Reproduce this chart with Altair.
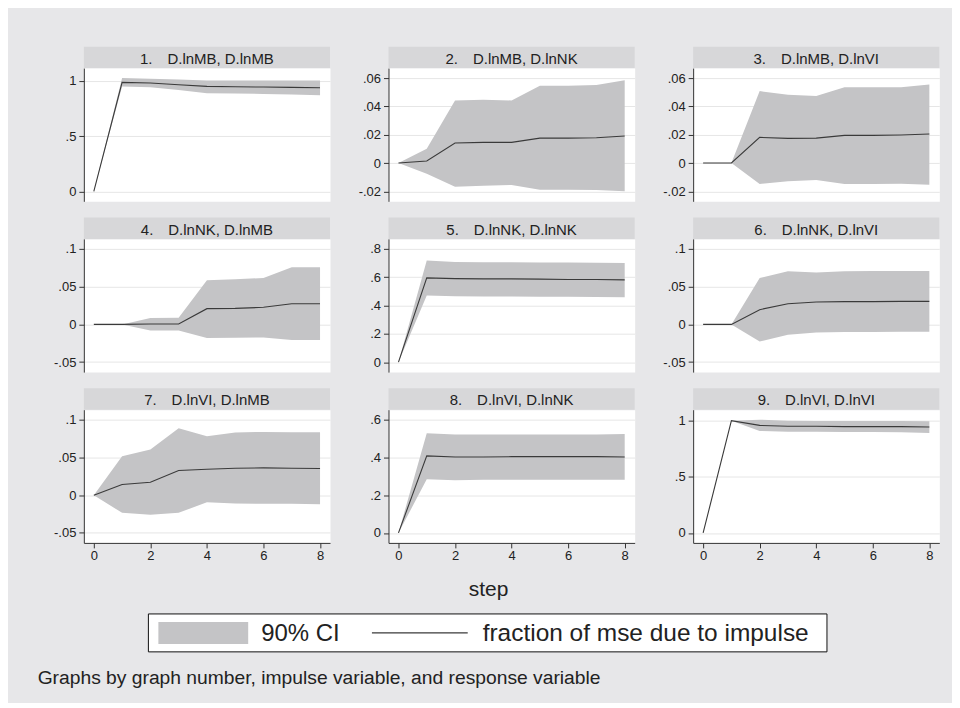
import altair as alt
import pandas as pd

# ---------------- data ----------------
steps = [0, 1, 2, 3, 4, 5, 6, 7, 8]

titles = [
    "1.\u2003D.lnMB, D.lnMB", "2.\u2003D.lnMB, D.lnNK", "3.\u2003D.lnMB, D.lnVI",
    "4.\u2003D.lnNK, D.lnMB", "5.\u2003D.lnNK, D.lnNK", "6.\u2003D.lnNK, D.lnVI",
    "7.\u2003D.lnVI, D.lnMB", "8.\u2003D.lnVI, D.lnNK", "9.\u2003D.lnVI, D.lnVI",
]

est = [
    [0, 0.985, 0.979, 0.964, 0.949, 0.946, 0.943, 0.940, 0.937],
    [0, 0.0014, 0.0141, 0.0146, 0.0146, 0.0176, 0.0176, 0.0179, 0.0191],
    [0, 0, 0.0181, 0.0174, 0.0176, 0.0195, 0.0195, 0.0198, 0.0205],
    [0, 0, 0.0004, 0.0004, 0.0208, 0.0212, 0.0226, 0.0274, 0.0274],
    [0, 0.595, 0.590, 0.588, 0.588, 0.586, 0.584, 0.584, 0.581],
    [0, 0, 0.0195, 0.0274, 0.0296, 0.0301, 0.0301, 0.0305, 0.0305],
    [0, 0.0141, 0.0172, 0.0327, 0.0344, 0.0357, 0.0362, 0.0357, 0.0353],
    [0, 0.408, 0.402, 0.402, 0.404, 0.404, 0.404, 0.404, 0.402],
    [0, 1.0, 0.958, 0.950, 0.950, 0.947, 0.947, 0.947, 0.944],
]
ci_hi = [
    [0, 1.024, 1.018, 1.012, 1.003, 1.003, 1.003, 1.003, 1.003],
    [0, 0.0101, 0.0442, 0.0447, 0.0442, 0.0546, 0.0546, 0.0551, 0.0584],
    [0, 0, 0.0508, 0.0482, 0.0473, 0.0536, 0.0536, 0.0536, 0.0555],
    [0, 0, 0.0084, 0.0088, 0.0584, 0.0597, 0.0615, 0.0757, 0.0757],
    [0, 0.718, 0.708, 0.706, 0.705, 0.704, 0.703, 0.702, 0.701],
    [0, 0, 0.0615, 0.0704, 0.0686, 0.0704, 0.0708, 0.0708, 0.0708],
    [0, 0.0516, 0.0605, 0.0887, 0.0781, 0.0830, 0.0838, 0.0834, 0.0834],
    [0, 0.528, 0.522, 0.522, 0.522, 0.522, 0.522, 0.522, 0.524],
    [0, 1.0, 1.009, 1.0, 0.997, 0.997, 0.997, 0.997, 0.994],
]
ci_lo = [
    [0, 0.949, 0.940, 0.916, 0.887, 0.884, 0.881, 0.875, 0.869],
    [0, -0.0075, -0.0167, -0.0160, -0.0155, -0.0188, -0.0188, -0.0190, -0.0200],
    [0, 0, -0.0148, -0.0129, -0.0120, -0.0148, -0.0148, -0.0146, -0.0153],
    [0, 0, -0.0080, -0.0080, -0.0181, -0.0177, -0.0173, -0.0208, -0.0208],
    [0, 0.471, 0.466, 0.464, 0.463, 0.462, 0.461, 0.460, 0.459],
    [0, 0, -0.0226, -0.0137, -0.0106, -0.0102, -0.0102, -0.0097, -0.0097],
    [0, -0.0234, -0.0260, -0.0234, -0.0093, -0.0110, -0.0115, -0.0115, -0.0119],
    [0, 0.284, 0.279, 0.281, 0.281, 0.281, 0.281, 0.281, 0.281],
    [0, 1.0, 0.908, 0.902, 0.902, 0.899, 0.899, 0.896, 0.890],
]

yticks = [
    [0, 0.5, 1],
    [-0.02, 0, 0.02, 0.04, 0.06],
    [-0.02, 0, 0.02, 0.04, 0.06],
    [-0.05, 0, 0.05, 0.1],
    [0, 0.2, 0.4, 0.6, 0.8],
    [-0.05, 0, 0.05, 0.1],
    [-0.05, 0, 0.05, 0.1],
    [0, 0.2, 0.4, 0.6],
    [0, 0.5, 1],
]
xticks = [0, 2, 4, 6, 8]
x_title = "step"
legend_labels = ["90% CI", "fraction of mse due to impulse"]
note = "Graphs by graph number, impulse variable, and response variable"

# ---------------- style / layout ----------------
W, H, STRIP, PADPX = 246.7, 133.5, 21.5, 10
BG, STRIP_C, BAND, LINE = "#e7e7e9", "#d7d7d9", "#c4c4c6", "#3a3a3a"
GRID, AX, TXT = "#e6e6e6", "#333333", "#222222"
FONT = "Liberation Sans"


def padded(a, b, span):
    p = (b - a) * PADPX / (span - 2 * PADPX)
    return [a - p, b + p]


label_expr = "replace(toString(datum.value), '0.', '.')"

panels = []
for i in range(9):
    r, c = divmod(i, 3)
    df = pd.DataFrame({"step": steps, "est": est[i], "lo": ci_lo[i], "hi": ci_hi[i]})
    ymin = min(min(yticks[i]), min(ci_lo[i]))
    ymax = max(max(yticks[i]), max(ci_hi[i]))
    yscale = alt.Scale(domain=padded(ymin, ymax, H), nice=False, zero=False)
    xscale = alt.Scale(domain=padded(0, 8, W), nice=False, zero=False)
    yaxis = alt.Axis(values=yticks[i], labelExpr=label_expr, grid=True, title=None,
                     labelFlush=False)
    if r == 2:
        if c == 1:
            xaxis = alt.Axis(values=xticks, grid=False, labelFlush=False, labelPadding=2,
                             title=x_title, titleX=99.7, titleY=53.2, titleAlign="center",
                             titleBaseline="alphabetic", titleFontSize=21,
                             titleFontWeight="normal", titleColor=TXT)
        else:
            xaxis = alt.Axis(values=xticks, grid=False, labelFlush=False, labelPadding=2,
                             title=None)
        xenc = alt.X("step:Q", scale=xscale, axis=xaxis)
        xenc2 = alt.X("step:Q", axis=xaxis)
    else:
        xenc = alt.X("step:Q", scale=xscale, axis=None)
        xenc2 = alt.X("step:Q", axis=None)

    band = alt.Chart(df).mark_area(color=BAND, opacity=1).encode(
        x=xenc, y=alt.Y("lo:Q", scale=yscale, axis=yaxis), y2="hi:Q")
    line = alt.Chart(df).mark_line(color=LINE, strokeWidth=1.1).encode(
        x=xenc2, y=alt.Y("est:Q", axis=yaxis))

    sdf = pd.DataFrame({"label": [titles[i]]})
    strip = alt.Chart(sdf).mark_rect(color=STRIP_C).encode(
        x=alt.value(0), x2=alt.value(W), y=alt.value(-STRIP), y2=alt.value(0))
    stext = alt.Chart(sdf).mark_text(font=FONT, fontSize=15, color=TXT,
                                     baseline="alphabetic", align="center").encode(
        x=alt.value(W / 2), y=alt.value(-4.3), text="label:N")
    layers = [band, line, strip, stext]

    if i == 6:
        # legend box and note below the grid (relative to this panel's view)
        ldf0 = pd.DataFrame({"label": [legend_labels[0]]})
        ldf1 = pd.DataFrame({"label": [legend_labels[1]]})
        ndf = pd.DataFrame({"label": [note]})
        box = alt.Chart(ldf0).mark_rect(fill="white", stroke="#111111", strokeWidth=1).encode(
            x=alt.value(64.7), x2=alt.value(744.7), y=alt.value(204.7), y2=alt.value(242.7))
        swatch = alt.Chart(ldf0).mark_rect(color=BAND).encode(
            x=alt.value(74.7), x2=alt.value(164.7), y=alt.value(212.7), y2=alt.value(234.7))
        t0 = alt.Chart(ldf0).mark_text(font=FONT, fontSize=24, color=TXT, align="left",
                                       baseline="alphabetic").encode(
            x=alt.value(177.7), y=alt.value(232.3), text="label:N")
        lrule = alt.Chart(ldf1).mark_rule(color=LINE, strokeWidth=1.1).encode(
            x=alt.value(288.7), x2=alt.value(384.7), y=alt.value(223.7))
        t1 = alt.Chart(ldf1).mark_text(font=FONT, fontSize=24.5, color=TXT, align="left",
                                       baseline="alphabetic").encode(
            x=alt.value(399.7), y=alt.value(232.3), text="label:N")
        nt = alt.Chart(ndf).mark_text(font=FONT, fontSize=19.3, color=TXT, align="left",
                                      baseline="alphabetic").encode(
            x=alt.value(-46.3), y=alt.value(275.3), text="label:N")
        layers += [box, swatch, t0, lrule, t1, nt]

    panels.append(alt.layer(*layers).properties(width=W, height=H))

chart = alt.concat(
    *panels, columns=3, spacing={"row": 37.15, "column": 58.3}, bounds="flush"
).properties(
    background=BG,
    padding={"left": 29, "top": 37.5, "right": 12, "bottom": 12.7},
).configure_view(
    fill="white", stroke="transparent"
).configure_axis(
    labelFont=FONT, titleFont=FONT, labelFontSize=13, labelColor=TXT,
    domainColor=AX, tickColor=AX, tickSize=5, tickWidth=1, domainWidth=1,
    gridColor=GRID, gridWidth=1, labelPadding=3
)

chart.save("out.html", embed_options={"renderer": "svg", "actions": False})
